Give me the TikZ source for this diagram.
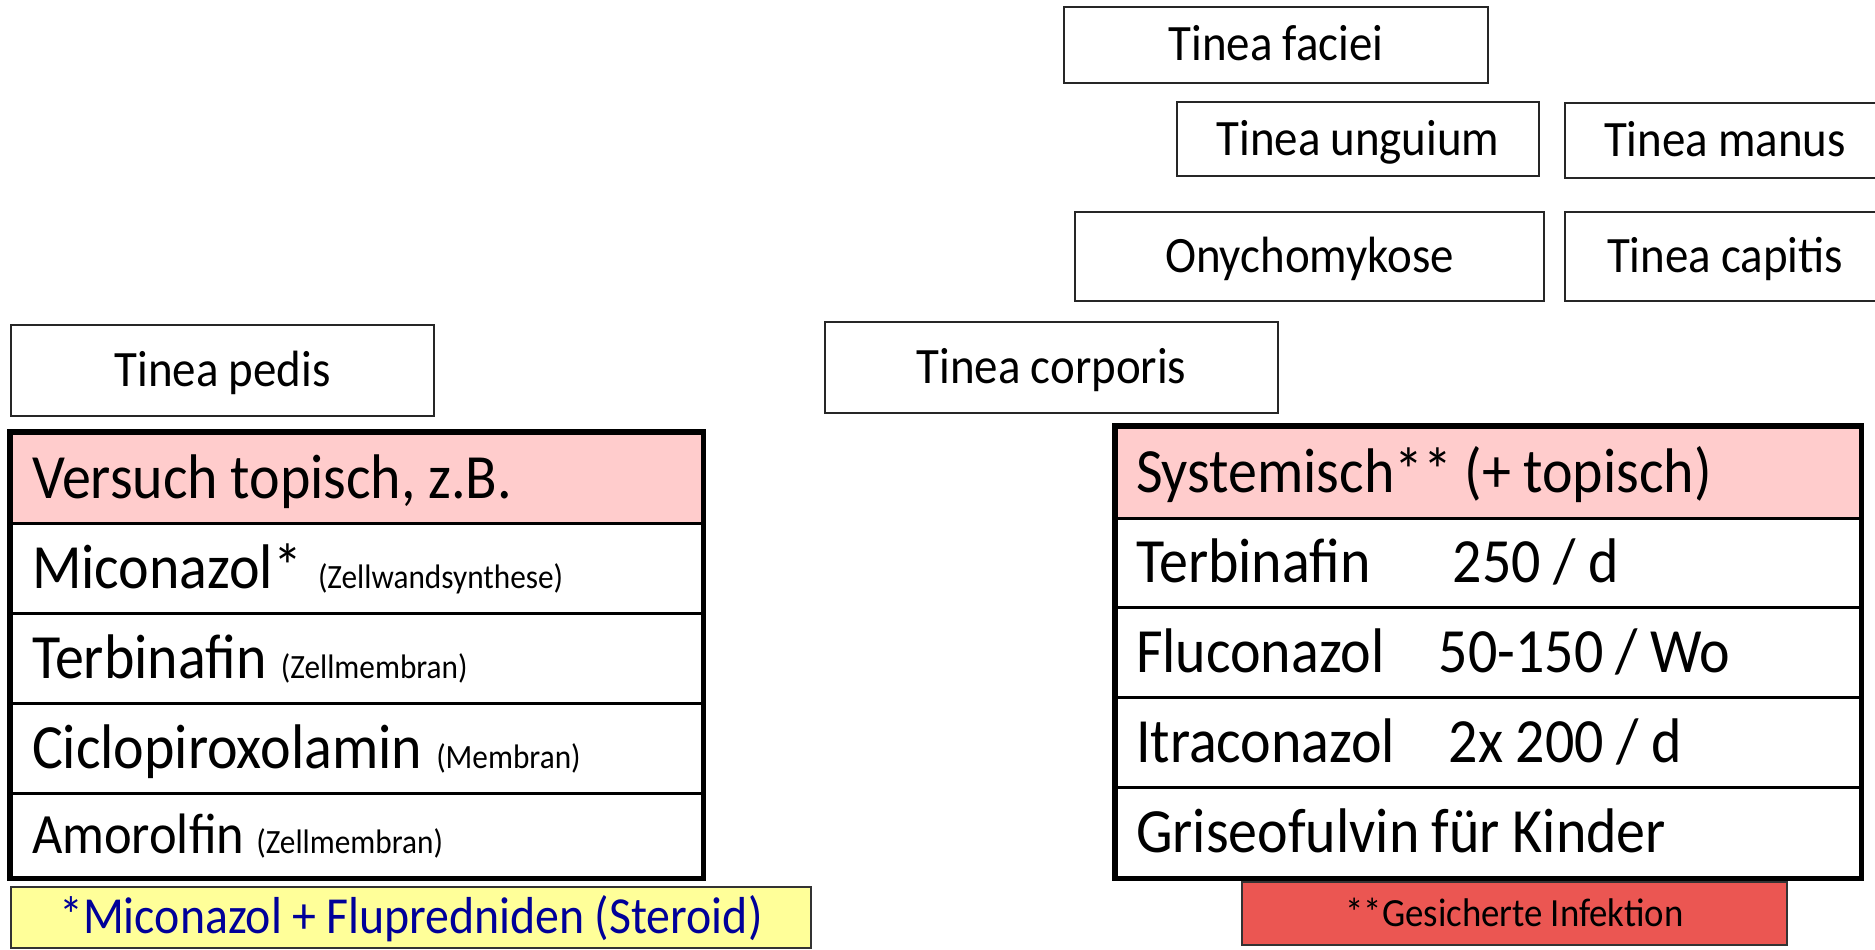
\documentclass[tikz,border=0pt]{standalone}
\usepackage{fontspec}
\setmainfont{Carlito}[FakeStretch=0.92,WordSpace=0.95]
\definecolor{hdrpink}{RGB}{255,204,204}
\definecolor{noteyellow}{RGB}{255,255,153}
\definecolor{notered}{RGB}{235,86,82}
\definecolor{noteblue}{RGB}{0,0,153}
\newcommand{\fsz}[1]{\fontsize{#1}{#1}\selectfont}
\newcommand{\rowtext}[1]{\spaceskip=0pt\xspaceskip=0pt\relax\mbox{#1}}
\begin{document}
\begin{tikzpicture}[x=1pt,y=-1pt,
  tbox/.style={draw=black!85, line width=2pt, inner sep=0pt,
    font=\fsz{51}, text height=32pt, text depth=0pt},
  rowl/.style={draw=black, line width=3pt, inner ysep=0pt, inner xsep=21pt,
    minimum width=691pt, text width=649pt, align=flush left,
    font=\fsz{63}, text height=40pt, text depth=0pt},
  rowr/.style={draw=black, line width=3pt, inner ysep=0pt, inner xsep=20pt,
    minimum width=744pt, text width=704pt, align=flush left,
    font=\fsz{63}, text height=40pt, text depth=0pt},
  hdr/.style={fill=hdrpink},
  outer/.style={draw=black, line width=5pt}
]
\clip (0,0) rectangle (1875,950);
\fill[white] (0,0) rectangle (1875,950);

% disease boxes
\node[tbox, minimum width=424pt, minimum height=76pt] (faciei) at (1276,45) {Tinea faciei};
\node[tbox, minimum width=362pt, minimum height=74pt] (unguium) at (1358,139) {Tinea unguium};
\node[tbox, minimum width=320pt, minimum height=75pt] (manus) at (1725,140.5) {Tinea manus};
\node[tbox, minimum width=469pt, minimum height=89pt] (onycho) at (1309.5,256.5) {Onychomykose};
\node[tbox, minimum width=320pt, minimum height=89pt] (capitis) at (1725,256.5) {Tinea capitis};
\node[tbox, minimum width=453pt, minimum height=91pt] (corporis) at (1051.5,367.5) {Tinea corporis};
\node[tbox, minimum width=423pt, minimum height=91pt] (pedis) at (222.5,370.5) {Tinea pedis};

% left table
\node[rowl, hdr, minimum height=90pt] (l0) at (356.5,478) {\rowtext{Versuch topisch, z.B.}};
\node[rowl, minimum height=90pt] (l1) at (356.5,568) {\rowtext{Miconazol*\hspace{16pt}{\fsz{34}(Zellwandsynthese)}}};
\node[rowl, minimum height=90pt] (l2) at (356.5,658) {\rowtext{Terbinafin\hspace{14pt}{\fsz{34}(Zellmembran)}}};
\node[rowl, minimum height=90pt] (l3) at (356.5,748) {\rowtext{Ciclopiroxolamin\hspace{14pt}{\fsz{34}(Membran)}}};
\node[rowl, minimum height=84pt, font=\fsz{57}, text height=36pt] (l4) at (356.5,835) {\rowtext{Amorolfin\hspace{12pt}{\fsz{34}(Zellmembran)}}};
\draw[outer] (l0.north west) rectangle (l4.south east);

% right table
\node[rowr, hdr, minimum height=91pt] (r0) at (1488,472.5) {\rowtext{Systemisch** (+ topisch)}};
\node[rowr, minimum height=89pt] (r1) at (1488,562.5) {\rowtext{\makebox[317pt][l]{Terbinafin}250 / d}};
\node[rowr, minimum height=90pt] (r2) at (1488,652) {\rowtext{\makebox[303pt][l]{Fluconazol}50-150 / Wo}};
\node[rowr, minimum height=90pt] (r3) at (1488,742) {\rowtext{\makebox[313pt][l]{Itraconazol}2x 200 / d}};
\node[rowr, minimum height=90pt] (r4) at (1488,832) {\rowtext{Griseofulvin für Kinder}};
\draw[outer] (r0.north west) rectangle (r4.south east);

% notes
\node[draw=black!80, line width=2pt, fill=noteyellow, inner sep=0pt,
  minimum width=800pt, minimum height=61pt, font=\fsz{52}, text=noteblue,
  text height=32pt, text depth=0pt] (yel) at (411,917.5) {*Miconazol + Flupredniden (Steroid)};
\node[draw=black!80, line width=2pt, fill=notered, inner sep=0pt,
  minimum width=545pt, minimum height=63pt, font=\fsz{40},
  text height=25pt, text depth=0pt] (red) at (1514.5,913.5) {**Gesicherte Infektion};
\end{tikzpicture}
\end{document}
